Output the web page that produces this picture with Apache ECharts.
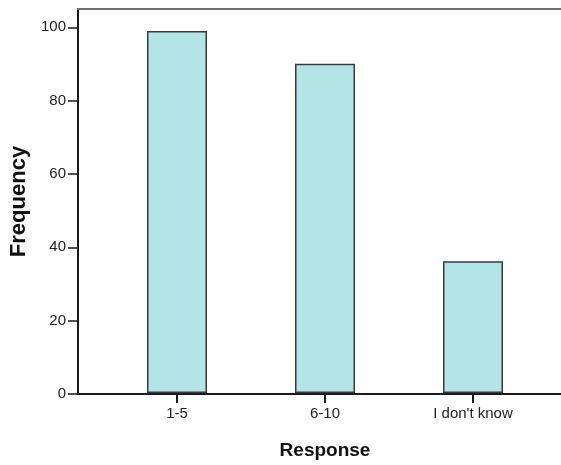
<!DOCTYPE html>
<html>
<head>
<meta charset="utf-8">
<script src="https://cdn.jsdelivr.net/npm/echarts@6/dist/echarts.min.js"></script>
<style>
html,body{margin:0;padding:0;background:#fff;}
#chart{width:561px;height:465px;}
</style>
</head>
<body>
<div id="chart"></div>
<script>
const categories = ["1-5", "6-10", "I don't know"];
const frequencies = [99, 90, 36];
const yMin = 0;
const yMax = 105;
const yInterval = 20;
const xTitle = "Response";
const yTitle = "Frequency";

const chart = echarts.init(document.getElementById('chart'), null, {renderer: 'canvas'});
const font = 'Liberation Sans, Arial, sans-serif';
const option = {
  backgroundColor: '#ffffff',
  animation: false,
  grid: [
    {left: 78, right: -2, top: 9, bottom: 71, containLabel: false},
    {left: 103, right: 14, top: 9, bottom: 71, containLabel: false}
  ],
  xAxis: [
    {gridIndex: 0, type: 'value', min: 0, max: 1, position: 'bottom',
     axisLine: {show: true, onZero: false, lineStyle: {color: '#1a1a1a', width: 2}},
     axisTick: {show: false}, axisLabel: {show: false}, splitLine: {show: false}},
    {gridIndex: 0, type: 'value', min: 0, max: 1, position: 'top',
     axisLine: {show: true, onZero: false, lineStyle: {color: '#6e6e6e', width: 2}},
     axisTick: {show: false}, axisLabel: {show: false}, splitLine: {show: false}},
    {gridIndex: 1, type: 'category', data: categories, position: 'bottom',
     axisLine: {show: false},
     axisTick: {show: true, alignWithLabel: true, length: 10, lineStyle: {color: '#1a1a1a', width: 2}},
     axisLabel: {color: '#222', fontFamily: font, fontSize: 15, margin: 13},
     name: xTitle, nameLocation: 'middle', nameGap: 48,
     nameTextStyle: {color: '#111', fontFamily: font, fontSize: 19, fontWeight: 'bold'}}
  ],
  yAxis: [
    {gridIndex: 0, type: 'value', min: yMin, max: yMax, interval: yInterval,
     axisLine: {show: true, onZero: false, lineStyle: {color: '#1a1a1a', width: 2}},
     axisTick: {show: true, length: 10, lineStyle: {color: '#1a1a1a', width: 1.5}},
     axisLabel: {color: '#222', fontFamily: font, fontSize: 15, margin: 12, showMaxLabel: false},
     splitLine: {show: false},
     name: yTitle, nameLocation: 'middle', nameGap: 48, nameRotate: 90,
     nameTextStyle: {color: '#111', fontFamily: font, fontSize: 22, fontWeight: 'bold'}},
    {gridIndex: 1, type: 'value', min: yMin, max: yMax, show: false}
  ],
  series: [{
    type: 'bar',
    xAxisIndex: 2,
    yAxisIndex: 1,
    data: frequencies,
    barWidth: 60,
    itemStyle: {color: '#b3e5e7', borderColor: '#3a3a3a', borderWidth: 1.5},
    silent: true
  }]
};
chart.setOption(option);
</script>
</body>
</html>
